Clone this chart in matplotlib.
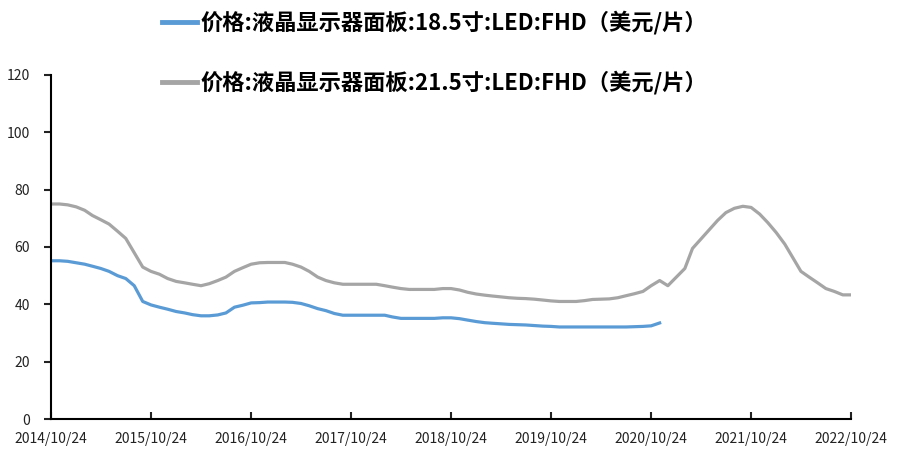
import numpy as np
import pandas as pd
import matplotlib
matplotlib.use("Agg")
import matplotlib.pyplot as plt
import matplotlib.dates as mdates

plt.rcParams['font.family'] = ['Noto Sans CJK SC', 'DejaVu Sans']

# monthly observations starting 2014/10/24
start = "2014-10-24"
end = "2022-10-24"

# 21.5 inch panel price, USD per piece
price_215 = [75, 75, 74.7, 74, 72.8, 71, 69.5, 68, 65.5, 63, 58, 53,
             51.5, 50.5, 49, 48, 47.5, 47, 46.5, 47.2, 48.3, 49.5, 51.5, 52.8,
             54, 54.5, 54.6, 54.6, 54.6, 54, 53, 51.5, 49.5, 48.3, 47.5, 47,
             47, 47, 47, 47, 46.5, 46, 45.5, 45.2, 45.2, 45.2, 45.2, 45.5,
             45.5, 45, 44.2, 43.6, 43.2, 42.9, 42.6, 42.3, 42.1, 42, 41.8, 41.5,
             41.2, 41, 41, 41, 41.3, 41.7, 41.8, 41.9, 42.3, 43, 43.7, 44.5,
             46.5, 48.3, 46.5, 49.5, 52.5, 59.5, 62.8, 66, 69.3, 72, 73.5, 74.2,
             73.8, 71.5, 68.5, 65, 61, 56.5, 51.5, 49.5, 47.5, 45.5, 44.5, 43.3,
             43.3]

# 18.5 inch panel price, USD per piece
price_185 = [55.2, 55.2, 55, 54.5, 54, 53.3, 52.5, 51.5, 50, 49, 46.5, 41,
             39.8, 39, 38.3, 37.5, 37, 36.4, 36, 36, 36.3, 37, 39, 39.7,
             40.5, 40.6, 40.8, 40.8, 40.8, 40.7, 40.3, 39.5, 38.5, 37.8, 36.8, 36.2,
             36.2, 36.2, 36.2, 36.2, 36.2, 35.6, 35.1, 35.1, 35.1, 35.1, 35.1, 35.3,
             35.3, 35, 34.5, 34, 33.6, 33.4, 33.2, 33, 32.9, 32.8, 32.6, 32.4,
             32.3, 32.1, 32.1, 32.1, 32.1, 32.1, 32.1, 32.1, 32.1, 32.1, 32.2, 32.3,
             32.5, 33.5]

label_185 = "价格:液晶显示器面板:18.5寸:LED:FHD（美元/片）"
label_215 = "价格:液晶显示器面板:21.5寸:LED:FHD（美元/片）"

dates_215 = pd.date_range(start, periods=len(price_215), freq=pd.DateOffset(months=1))
dates_185 = dates_215[:len(price_185)]
xticks = pd.date_range(start, end, freq=pd.DateOffset(years=1))

fig = plt.figure(figsize=(8.98, 4.49), dpi=100)
ax = fig.add_axes([0.0568, 0.0668, 0.8909, 0.7662])

ax.plot(dates_185, price_185, color="#5B9BD5", lw=2.3, label=label_185)
ax.plot(dates_215, price_215, color="#A5A5A5", lw=2.3, label=label_215)

ax.set_xlim(pd.Timestamp(start), pd.Timestamp(end))
ax.set_ylim(0, 120)
ax.set_yticks(np.arange(0, 121, 20))
ax.set_xticks(xticks)
ax.xaxis.set_major_formatter(mdates.DateFormatter("%Y/%m/%d"))

for s in ["top", "right"]:
    ax.spines[s].set_visible(False)
for s in ["left", "bottom"]:
    ax.spines[s].set_linewidth(1.5)
    ax.spines[s].set_color("black")

ax.tick_params(axis="x", direction="in", length=5, width=1.5, labelsize=10, pad=9, colors="#222222")
ax.tick_params(axis="y", direction="out", length=5, width=1.5, labelsize=10, pad=10, colors="#222222")

leg = fig.legend(loc="upper left", bbox_to_anchor=(0.158, 1.02), frameon=False,
                 prop={"size": 16, "weight": "bold"}, handlelength=1.6, handletextpad=0.15,
                 labelspacing=1.6)
for line in leg.get_lines():
    line.set_linewidth(3.5)

fig.savefig("out.png", dpi=100)
